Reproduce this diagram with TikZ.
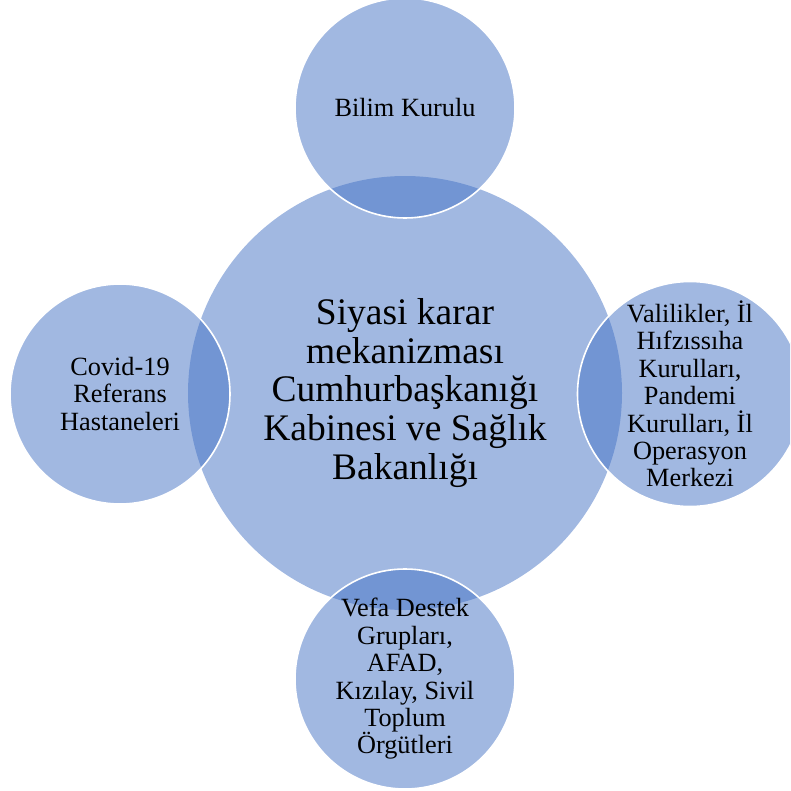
\documentclass[tikz,border=0pt]{standalone}
\usepackage{fontspec}
\setmainfont{Liberation Serif}
\definecolor{acc}{RGB}{68,114,196}
\begin{document}
\begin{tikzpicture}[x=1pt,y=-1pt,
  hub/.style={circle,inner sep=0pt,minimum size=434pt,fill=acc,fill opacity=0.5,text opacity=1,draw=none,align=center,
    font=\fontsize{37.5}{38.8}\selectfont},
  sat/.style={circle,inner sep=0pt,minimum size=220pt,fill=acc,fill opacity=0.5,text opacity=1,draw=white,draw opacity=1,line width=1.6pt,align=center,
    font=\fontsize{26.3}{27.4}\selectfont}]
\useasboundingbox (0,0) rectangle (790,791);
\clip (0,0) rectangle (790,791);
\node[hub] (c) at (405,393) {Siyasi karar\\mekanizması\\Cumhurbaşkanığı\\Kabinesi ve Sağlık\\Bakanlığı};
\node[sat] (t) at (405,108) {Bilim Kurulu};
\node[sat] (l) at (120,394) {Covid-19\\Referans\\Hastaneleri};
\node[sat] (r) at (690,394) {Valilikler, İl\\Hıfzıssıha\\Kurulları,\\Pandemi\\Kurulları, İl\\Operasyon\\Merkezi};
\node[sat] (b) at (405,679) {Vefa Destek\\Grupları,\\AFAD,\\Kızılay, Sivil\\Toplum\\Örgütleri};
\end{tikzpicture}
\end{document}
